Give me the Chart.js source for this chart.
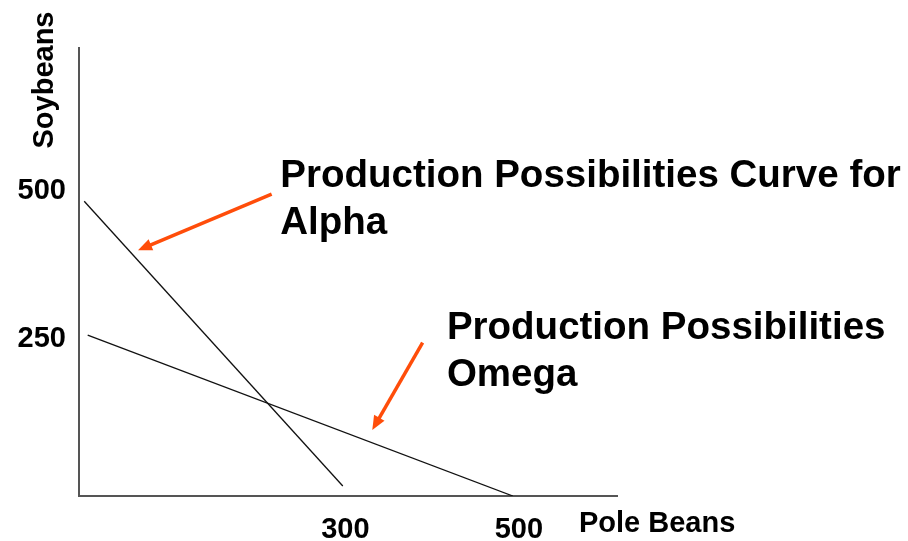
<!DOCTYPE html>
<html>
<head>
<meta charset="utf-8">
<script src="https://cdn.jsdelivr.net/npm/chart.js@4/dist/chart.umd.min.js"></script>
<style>
  body { margin: 0; background: #fff; }
  #wrap { width: 908px; height: 541px; }
</style>
</head>
<body>
<div id="wrap"><canvas id="box" width="908" height="541"></canvas></div>
<script>
// values (pole beans on x, soybeans on y)
var alphaX = [6, 304];
var alphaY = [500, 17];
var omegaX = [10, 500];
var omegaY = [273, 0];

var xTicks = [300, 500];
var yTicks = [250, 500];

var xTitle = 'Pole Beans';
var yTitle = 'Soybeans';

// callouts, anchored in data units
var notes = [
  { lines: ['Production Possibilities Curve for', 'Alpha'], x: 232, y: 525 },
  { lines: ['Production Possibilities', 'Omega'], x: 424, y: 266 }
];
var arrows = [
  { from: [222, 512], to: [68, 417] },
  { from: [396, 260], to: [338, 112] }
];

var FONT = '"Liberation Sans", Arial, Helvetica, sans-serif';
Chart.defaults.font.family = FONT;

function pts(xs, ys) {
  return xs.map(function (x, i) { return { x: x, y: ys[i] }; });
}

var callouts = {
  id: 'callouts',
  afterDraw: function (chart) {
    var ctx = chart.ctx;
    var sx = chart.scales.x, sy = chart.scales.y;
    var area = chart.chartArea;
    ctx.save();

    // arrows
    ctx.strokeStyle = '#ff4d0a';
    ctx.fillStyle = '#ff4d0a';
    ctx.lineWidth = 3.5;
    arrows.forEach(function (a) {
      var x1 = sx.getPixelForValue(a.from[0]), y1 = sy.getPixelForValue(a.from[1]);
      var x2 = sx.getPixelForValue(a.to[0]), y2 = sy.getPixelForValue(a.to[1]);
      var ang = Math.atan2(y2 - y1, x2 - x1);
      var hl = 14, hw = 6;
      ctx.beginPath();
      ctx.moveTo(x1, y1);
      ctx.lineTo(x2 - Math.cos(ang) * (hl - 2), y2 - Math.sin(ang) * (hl - 2));
      ctx.stroke();
      ctx.beginPath();
      ctx.moveTo(x2, y2);
      ctx.lineTo(x2 - Math.cos(ang) * hl - Math.sin(ang) * hw, y2 - Math.sin(ang) * hl + Math.cos(ang) * hw);
      ctx.lineTo(x2 - Math.cos(ang) * hl + Math.sin(ang) * hw, y2 - Math.sin(ang) * hl - Math.cos(ang) * hw);
      ctx.closePath();
      ctx.fill();
    });

    // callout text
    ctx.fillStyle = '#000';
    ctx.font = 'bold 38.5px ' + FONT;
    ctx.textAlign = 'left';
    ctx.textBaseline = 'alphabetic';
    notes.forEach(function (n) {
      var x = sx.getPixelForValue(n.x), y = sy.getPixelForValue(n.y);
      n.lines.forEach(function (t, i) { ctx.fillText(t, x, y + i * 47); });
    });

    // axis titles
    ctx.font = 'bold 29px ' + FONT;
    ctx.fillText(xTitle, area.right - 38, area.bottom + 36);
    ctx.translate(area.left - 26, area.top + 32);
    ctx.rotate(-Math.PI / 2);
    ctx.textAlign = 'center';
    ctx.fillText(yTitle, 0, 0);
    ctx.restore();
  }
};

var mychart = new Chart('box', {
  type: 'line',
  data: {
    datasets: [
      { label: 'Alpha', data: pts(alphaX, alphaY), borderColor: '#111', borderWidth: 1.3, pointRadius: 0, fill: false },
      { label: 'Omega', data: pts(omegaX, omegaY), borderColor: '#111', borderWidth: 1.3, pointRadius: 0, fill: false }
    ]
  },
  options: {
    responsive: false,
    animation: false,
    layout: { padding: { top: 48, right: 291, left: 0, bottom: 0 } },
    plugins: { legend: { display: false }, tooltip: { enabled: false } },
    scales: {
      x: {
        type: 'linear', min: 0, max: 620,
        afterBuildTicks: function (s) { s.ticks = xTicks.map(function (v) { return { value: v }; }); },
        afterFit: function (s) { s.height = 45; },
        grid: { display: false, drawTicks: false },
        border: { display: true, color: '#555', width: 2 },
        ticks: { color: '#000', font: { size: 29, weight: 'bold' }, padding: 17, labelOffset: 6, maxRotation: 0 }
      },
      y: {
        type: 'linear', min: 0, max: 760,
        afterBuildTicks: function (s) { s.ticks = yTicks.map(function (v) { return { value: v }; }); },
        afterFit: function (s) { s.width = 79; },
        grid: { display: false, drawTicks: false },
        border: { display: true, color: '#555', width: 2 },
        ticks: { color: '#000', font: { size: 29, weight: 'bold' }, padding: 13, labelOffset: -10 }
      }
    }
  },
  plugins: [callouts]
});
</script>
</body>
</html>
